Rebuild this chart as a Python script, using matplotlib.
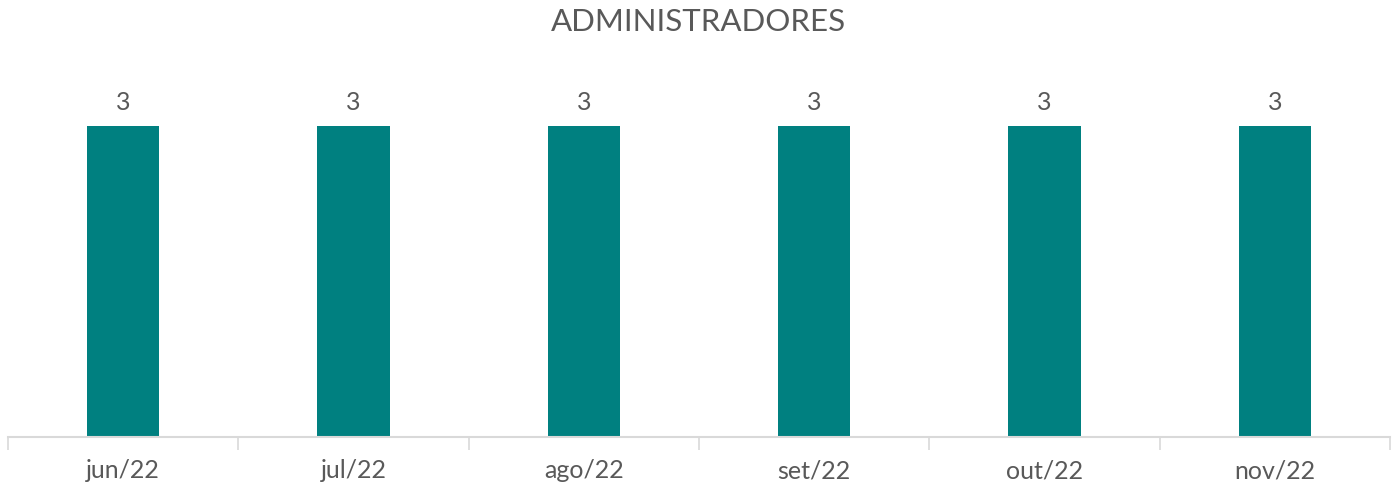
import matplotlib
matplotlib.use("Agg")
from matplotlib import pyplot as plt

# dados do gráfico
meses = ["jun/22", "jul/22", "ago/22", "set/22", "out/22", "nov/22"]
administradores = [3, 3, 3, 3, 3, 3]

plt.rcParams['font.family'] = ['Lato', 'DejaVu Sans']
cinza = '#595959'

fig = plt.figure(figsize=(13.95, 4.84), dpi=100)
# eixo posicionado em pixels: base em y=437, esquerda 8, direita 1390
ax = fig.add_axes([8 / 1395, (484 - 437) / 484, 1382 / 1395, 377 / 484])

x = list(range(len(meses)))
bars = ax.bar(x, administradores, width=0.313, color='#008080')

ax.set_xlim(-0.5, len(meses) - 0.5)
ax.set_ylim(0, 3 * 377 / 311)

for b, v in zip(bars, administradores):
    ax.text(b.get_x() + b.get_width() / 2, v + 0.12, str(v),
            ha='center', va='bottom', fontsize=18, color=cinza)

ax.set_xticks(x)
ax.set_xticklabels(meses, fontsize=18, color=cinza)
ax.tick_params(axis='x', length=0, pad=16)
ax.set_xticks([i - 0.5 for i in range(len(meses) + 1)], minor=True)
ax.tick_params(axis='x', which='minor', length=9, width=1.2, color='#d9d9d9')
ax.set_yticks([])

for s in ['top', 'right', 'left']:
    ax.spines[s].set_visible(False)
ax.spines['bottom'].set_color('#d9d9d9')
ax.spines['bottom'].set_linewidth(1.5)

fig.text(698 / 1395, 1 - 22 / 484, "ADMINISTRADORES", ha='center', va='center',
         fontsize=22.5, color=cinza)

fig.savefig('out.png', dpi=100)
plt.close()
